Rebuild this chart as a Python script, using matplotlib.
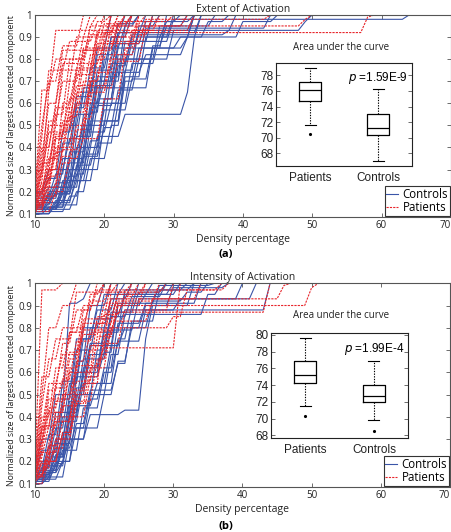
import numpy as np
import matplotlib
matplotlib.use("Agg")
import matplotlib.pyplot as plt

plt.rcParams['font.family'] = ['Open Sans', 'DejaVu Sans']

# step curves: list of (density, value) -> value reached at that density
ext_controls = [
    [(10, .12), (14, .2), (16, .45), (18, .7), (21, .9), (24, 1)],
    [(10, .11), (13, .16), (15, .3), (17, .55), (19, .75), (22, .92), (26, 1)],
    [(10, .14), (12, .18), (14, .35), (16, .6), (20, .85), (23, .95), (25, 1)],
    [(10, .1), (12, .13), (15, .25), (18, .4), (20, .62), (22, .8), (28, .95), (32, 1)],
    [(10, .15), (13, .22), (15, .38), (17, .5), (19, .7), (23, .88), (27, 1)],
    [(10, .12), (14, .19), (16, .32), (19, .45), (23, .55), (32, .65), (33, .9), (35, .97), (38, 1)],
    [(10, .13), (12, .2), (14, .42), (16, .58), (18, .76), (21, .9), (23, 1)],
    [(10, .18), (13, .28), (15, .5), (17, .67), (27, .85), (29, 1)],
    [(10, .11), (15, .18), (17, .3), (20, .52), (23, .72), (26, .9), (29, .97), (33, 1)],
    [(10, .16), (12, .22), (16, .4), (18, .6), (21, .78), (24, .9), (40, .97), (45, 1)],
    [(10, .12), (14, .25), (17, .48), (19, .62), (22, .82), (25, .93), (49, .97), (50, 1)],
    [(10, .1), (13, .15), (16, .28), (18, .5), (21, .74), (24, .88), (30, .98), (64, 1)],
    [(10, .14), (13, .2), (15, .35), (18, .56), (20, .8), (22, .92), (34, 1)],
    [(10, .2), (12, .3), (15, .44), (17, .65), (19, .85), (21, 1)],
    [(10, .12), (16, .2), (18, .35), (21, .5), (23, .7), (25, .85), (32, .9), (33, 1)],
    [(10, .15), (14, .22), (16, .38), (18, .52), (23, .75), (25, .95), (28, 1)],
    [(10, .13), (15, .3), (17, .45), (19, .68), (22, .85), (31, .9), (33, 1)],
    [(10, .11), (12, .17), (14, .3), (17, .47), (21, .6), (23, .8), (26, .94), (44, 1)],
    [(10, .17), (13, .24), (16, .55), (19, .72), (23, .95), (24, 1)],
    [(10, .12), (14, .16), (16, .25), (19, .42), (22, .6), (24, .78), (28, .9), (30, 1)],
    [(10, .14), (12, .19), (15, .33), (18, .58), (20, .7), (22, .87), (26, .97), (31, 1)],
    [(10, .1), (13, .14), (17, .37), (20, .6), (23, .74), (26, .82), (32, .9), (34, 1)],
    [(10, .13), (14, .21), (15, .27), (17, .36), (20, .49), (22, .66), (25, .8), (30, .93), (33, 1)],
    [(10, .16), (13, .19), (16, .3), (18, .43), (20, .57), (24, .71), (27, .86), (29, .95), (36, 1)],
    [(10, .11), (12, .15), (15, .22), (17, .4), (19, .59), (22, .77), (24, .91), (38, .93), (39, 1)],
    [(10, .19), (12, .26), (14, .47), (16, .63), (19, .82), (22, .96), (25, 1)],
]
ext_patients = [
    [(10, .13), (11, .3), (12, .66), (13, .93), (23, 1)],
    [(10, .15), (11, .25), (12, .5), (14, .75), (17, .9), (20, 1)],
    [(10, .12), (12, .2), (13, .45), (15, .7), (17, .85), (21, 1)],
    [(10, .18), (11, .4), (13, .6), (14, .84), (22, .95), (24, 1)],
    [(10, .11), (11, .2), (12, .35), (14, .52), (16, .68), (19, .9), (25, 1)],
    [(10, .2), (11, .45), (12, .75), (15, .88), (19, .97), (21, 1)],
    [(10, .14), (12, .28), (13, .55), (15, .8), (18, .95), (49, .98), (50, 1)],
    [(10, .16), (11, .33), (13, .5), (16, .6), (19, .8), (21, .95), (23, 1)],
    [(10, .12), (12, .22), (14, .4), (16, .65), (18, .82), (20, .92), (58, .99), (59, 1)],
    [(10, .1), (11, .18), (12, .3), (14, .48), (16, .75), (19, .92), (22, 1)],
    [(10, .2), (11, .66), (13, .8), (18, .95), (19, 1)],
    [(10, .13), (12, .25), (13, .4), (15, .58), (17, .78), (20, .88), (25, .96), (26, 1)],
    [(10, .17), (11, .3), (12, .52), (14, .7), (16, .9), (18, 1)],
    [(10, .11), (13, .2), (15, .35), (17, .44), (20, .62), (23, .85), (25, 1)],
    [(10, .15), (12, .3), (14, .6), (16, .76), (19, .93), (28, 1)],
    [(10, .12), (11, .22), (13, .38), (15, .54), (17, .7), (20, .85), (22, .97), (30, 1)],
    [(10, .22), (11, .5), (12, .7), (14, .86), (17, 1)],
    [(10, .14), (12, .18), (14, .33), (16, .48), (18, .65), (21, .8), (24, .93), (33, 1)],
    [(10, .16), (11, .28), (12, .47), (15, .62), (17, .84), (20, .96), (24, 1)],
    [(10, .13), (11, .24), (13, .44), (18, .7), (20, .9), (21, 1)],
    [(10, .19), (12, .4), (13, .58), (16, .73), (19, .87), (26, .98), (44, 1)],
    [(10, .12), (11, .16), (12, .27), (14, .36), (16, .5), (18, .74), (22, .9), (24, 1)],
    [(10, .14), (11, .21), (12, .32), (13, .46), (15, .56), (18, .68), (21, .82), (25, .91), (27, 1)],
    [(10, .11), (11, .15), (13, .24), (14, .39), (17, .53), (19, .67), (22, .79), (26, .95), (32, 1)],
    [(10, .17), (11, .36), (12, .6), (14, .78), (18, .91), (22, 1)],
]
int_controls = [
    [(10, .12), (12, .2), (14, .45), (15, .91), (17, .93), (18, 1)],
    [(10, .14), (11, .2), (13, .35), (15, .55), (17, .75), (19, .88), (22, 1)],
    [(10, .1), (12, .15), (14, .28), (16, .5), (19, .7), (21, .85), (23, .95), (30, 1)],
    [(10, .13), (13, .2), (15, .3), (18, .41), (23, .43), (26, .75), (27, .9), (33, 1)],
    [(10, .11), (12, .16), (14, .3), (16, .53), (18, .72), (22, .9), (25, 1)],
    [(10, .15), (11, .25), (13, .42), (16, .6), (18, .8), (21, .93), (24, 1)],
    [(10, .12), (13, .18), (15, .35), (18, .5), (21, .68), (23, .86), (35, .95), (37, 1)],
    [(10, .16), (12, .27), (14, .48), (16, .7), (19, .84), (22, .95), (27, 1)],
    [(10, .1), (11, .14), (13, .22), (15, .38), (17, .55), (21, .72), (23, .8), (26, .9), (30, .98), (38, 1)],
    [(10, .13), (12, .22), (15, .4), (17, .62), (20, .8), (23, .88), (44, 1)],
    [(10, .18), (11, .3), (13, .5), (16, .75), (19, .9), (21, 1)],
    [(10, .12), (14, .2), (16, .35), (20, .5), (22, .65), (24, .8), (27, .92), (32, .96), (35, 1)],
    [(10, .14), (12, .18), (14, .33), (16, .58), (18, .73), (21, .85), (24, .94), (29, 1)],
    [(10, .11), (13, .19), (15, .42), (17, .6), (20, .78), (23, .97), (33, 1)],
    [(10, .15), (12, .24), (14, .4), (16, .65), (18, .9), (20, 1)],
    [(10, .12), (11, .16), (14, .25), (17, .44), (20, .6), (22, .74), (26, .88), (31, .93), (40, 1)],
    [(10, .13), (13, .28), (15, .5), (18, .68), (21, .87), (25, .96), (29, 1)],
    [(10, .1), (12, .13), (15, .3), (18, .48), (20, .62), (22, .82), (26, .91), (28, .99), (36, 1)],
    [(10, .17), (12, .32), (14, .56), (17, .8), (20, .95), (23, 1)],
    [(10, .14), (13, .23), (15, .45), (19, .55), (22, .75), (24, .9), (26, .95), (31, 1)],
    [(10, .11), (12, .19), (13, .26), (16, .37), (18, .52), (22, .64), (24, .83), (28, .97), (32, 1)],
    [(10, .15), (14, .2), (16, .43), (17, .58), (20, .69), (22, .91), (34, 1)],
    [(10, .12), (11, .17), (13, .3), (15, .47), (17, .66), (21, .79), (25, .93), (42, 1)],
]
int_patients = [
    [(10, .2), (11, .97), (14, 1)],
    [(10, .12), (11, .35), (13, .55), (15, .78), (17, .9), (20, 1)],
    [(10, .14), (12, .27), (14, .5), (16, .63), (20, .71), (31, 1)],
    [(10, .11), (11, .2), (13, .42), (15, .6), (17, .84), (22, .95), (26, 1)],
    [(10, .18), (11, .45), (12, .66), (14, .8), (18, .92), (21, 1)],
    [(10, .13), (12, .22), (13, .38), (16, .56), (19, .76), (22, .9), (50, .98), (51, 1)],
    [(10, .16), (11, .3), (12, .52), (14, .73), (16, .88), (19, 1)],
    [(10, .1), (11, .17), (13, .3), (16, .46), (18, .62), (21, .8), (30, .85), (32, .97), (38, 1)],
    [(10, .12), (11, .25), (12, .42), (15, .62), (17, .79), (22, .87), (44, 1)],
    [(10, .2), (11, .58), (13, .75), (16, .96), (22, 1)],
    [(10, .14), (12, .2), (14, .33), (16, .5), (18, .7), (20, .86), (23, .94), (25, 1)],
    [(10, .11), (11, .22), (12, .36), (14, .45), (17, .55), (20, .77), (22, .92), (28, 1)],
    [(10, .17), (11, .4), (13, .62), (15, .78), (18, .95), (20, 1)],
    [(10, .13), (12, .28), (13, .47), (15, .66), (17, .82), (21, .93), (46, .99), (47, 1)],
    [(10, .15), (11, .27), (12, .48), (16, .6), (19, .85), (21, 1)],
    [(10, .12), (11, .19), (13, .26), (15, .4), (18, .58), (20, .73), (23, .88), (30, 1)],
    [(10, .22), (11, .5), (12, .8), (14, .9), (16, 1)],
    [(10, .14), (11, .24), (13, .4), (16, .52), (18, .72), (21, .96), (24, 1)],
    [(10, .1), (12, .2), (14, .32), (16, .47), (19, .66), (21, .83), (27, .93), (34, 1)],
    [(10, .16), (11, .34), (12, .55), (14, .68), (17, .88), (19, .97), (37, 1)],
    [(10, .13), (11, .29), (12, .44), (14, .57), (16, .74), (19, .82), (22, .96), (29, 1)],
    [(10, .11), (11, .14), (12, .24), (14, .38), (16, .65), (18, .78), (21, .9), (24, 1)],
    [(10, .19), (11, .36), (13, .53), (15, .69), (17, .77), (20, .91), (26, 1)],
]

# area-under-curve box summaries
ext_auc_patients = dict(whislo=71.7, q1=74.7, med=76.1, q3=77.1, whishi=78.9, fliers=[70.5])
ext_auc_controls = dict(whislo=67.0, q1=70.3, med=71.2, q3=73.1, whishi=76.2, fliers=[])
int_auc_patients = dict(whislo=71.5, q1=74.3, med=75.2, q3=76.9, whishi=79.6, fliers=[70.3])
int_auc_controls = dict(whislo=69.8, q1=72.0, med=72.7, q3=74.0, whishi=76.9, fliers=[68.5])
box_labels = ['Patients', 'Controls']

blue = '#3a55a8'
red = '#e8262c'
frame = '#555555'


def curve_xy(steps):
    xs, ys = [steps[0][0]], [steps[0][1]]
    for x, y in steps[1:]:
        xs += [x - 1, x]
        ys += [ys[-1], y]
    xs.append(70)
    ys.append(ys[-1])
    return xs, ys


def style_axes(ax, size):
    for s in ax.spines.values():
        s.set_color(frame)
        s.set_linewidth(0.8)
    ax.tick_params(direction='in', top=True, right=True, length=3,
                   width=0.6, color=frame, labelsize=size, labelcolor='#222222', pad=2)


def main_panel(rect, controls, patients, title):
    ax = fig.add_axes(rect)
    for c in controls:
        xs, ys = curve_xy(c)
        ax.plot(xs, ys, color=blue, lw=0.8)
    for c in patients:
        xs, ys = curve_xy(c)
        ax.plot(xs, ys, color=red, lw=0.8, ls=(0, (2, 1)))
    ax.set_xlim(10, 70)
    ax.set_ylim(0.085, 1.0)
    ax.set_xticks(range(10, 71, 10))
    ax.set_yticks([.1, .2, .3, .4, .5, .6, .7, .8, .9, 1])
    ax.set_yticklabels(['0.1', '0.2', '0.3', '0.4', '0.5', '0.6', '0.7', '0.8', '0.9', '1'])
    style_axes(ax, 7)
    ax.get_xticklabels()[-1].set_horizontalalignment('right')
    ax.set_title(title, fontsize=7.5, pad=2, color='#222222')
    ax.set_xlabel('Density percentage', fontsize=7.5, labelpad=2, color='#222222')
    ax.set_ylabel('Normalized size of largest connected component', fontsize=6.3,
                  labelpad=2, color='#222222')
    h1, = ax.plot([], [], color=blue, lw=0.8)
    h2, = ax.plot([], [], color=red, lw=0.8, ls=(0, (2, 1)))
    leg = ax.legend([h1, h2], ['Controls', 'Patients'], loc='lower right',
                    fontsize=8.3, handlelength=1.0, handletextpad=0.4,
                    borderpad=0.15, labelspacing=0.0, borderaxespad=0.1,
                    fancybox=False, framealpha=1)
    leg.get_frame().set_edgecolor('#333333')
    leg.get_frame().set_linewidth(0.8)
    return ax


def inset(rect, stats, ylim, yticks, ptext):
    ax = fig.add_axes(rect)
    ax.bxp(stats, positions=[1, 2], widths=0.32, showfliers=True,
           boxprops=dict(color='black', lw=0.9),
           medianprops=dict(color='black', lw=0.9),
           whiskerprops=dict(color='black', lw=0.8, ls=(0, (1.2, 1.2))),
           capprops=dict(color='black', lw=0.8),
           flierprops=dict(marker='.', markersize=2.5, color='black',
                           markerfacecolor='black', markeredgecolor='black'))
    ax.set_xlim(0.5, 2.5)
    ax.set_ylim(*ylim)
    ax.set_yticks(yticks)
    ax.set_xticks([1, 2])
    ax.set_xticklabels(box_labels, family=['Liberation Sans'])
    for t in ax.get_yticklabels():
        t.set_family(['Liberation Sans'])
    style_axes(ax, 8.5)
    ax.tick_params(axis='x', length=0, pad=4)
    ax.spines[:].set_color('#222222')
    ax.text(0.97, 0.93, r'$p$ =' + ptext, transform=ax.transAxes, ha='right', va='top',
            fontsize=8.5, family=['Liberation Sans'])
    return ax


fig = plt.figure(figsize=(4.52, 5.32), dpi=100)

main_panel([0.0774, 0.592, 0.920, 0.380], ext_controls, ext_patients, 'Extent of Activation')
main_panel([0.0774, 0.0846, 0.918, 0.383], int_controls, int_patients, 'Intensity of Activation')

inset([0.611, 0.688, 0.301, 0.194],
      [dict(ext_auc_patients, label=box_labels[0]), dict(ext_auc_controls, label=box_labels[1])],
      (66.4, 79.6), [68, 70, 72, 74, 76, 78], '1.59E-9')
inset([0.600, 0.1767, 0.303, 0.197],
      [dict(int_auc_patients, label=box_labels[0]), dict(int_auc_controls, label=box_labels[1])],
      (67.7, 80.2), [68, 70, 72, 74, 76, 78, 80], '1.99E-4')

fig.text(341 / 452, 1 - 47 / 532, 'Area under the curve', ha='center', va='center',
         fontsize=7, color='#222222')
fig.text(341 / 452, 1 - 316 / 532, 'Area under the curve', ha='center', va='center',
         fontsize=7, color='#222222')
fig.text(0.5, 1 - 255 / 532, '(a)', ha='center', va='center', fontsize=8, weight='bold')
fig.text(0.5, 1 - 526 / 532, '(b)', ha='center', va='center', fontsize=8, weight='bold')

fig.savefig('out.png', dpi=100)
